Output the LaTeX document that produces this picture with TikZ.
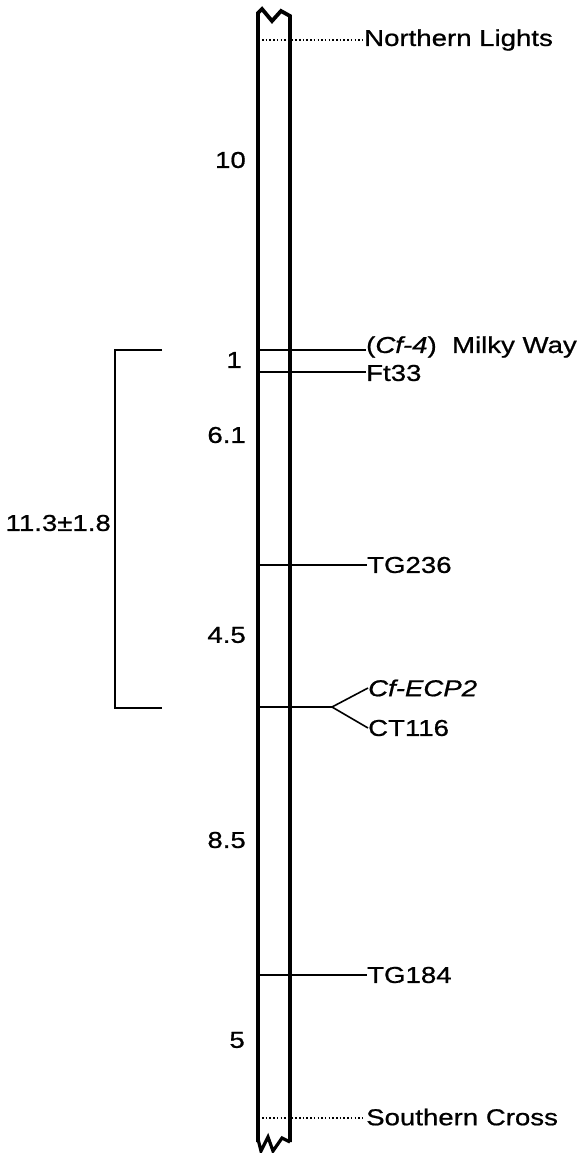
\documentclass[tikz,border=0pt]{standalone}
\usepackage{fontspec}
\setmainfont[FakeStretch=1.2,FakeBold=0.8]{Liberation Sans}
\begin{document}
\begin{tikzpicture}[x=1pt,y=-1pt,
  lbl/.style={inner sep=0pt,font=\fontsize{23}{26}\selectfont},
  num/.style={lbl,anchor=east},
  mk/.style={lbl,anchor=west},
  wall/.style={line width=3.8pt,line join=miter},
  tick/.style={line width=1.6pt},
  dots/.style={line width=1.3pt,dash pattern=on 1.5pt off 2.2pt}]
\useasboundingbox (0,0) rectangle (583,1153);
% chromosome
\draw[wall] (258,1142) -- (258,13) -- (262,9) -- (272,21) -- (281,11) -- (290,16) -- (290,1142);
\draw[line width=3.2pt,line join=miter] (258,1139) -- (261,1151) -- (268,1137) -- (273,1151) -- (282,1138) -- (290,1142);
% numbers
\node[num] (n10) at (246,160) {10};
\node[num] (n1) at (242,360) {1};
\node[num] (n61) at (246,435) {6.1};
\node[num] (n45) at (246,635) {4.5};
\node[num] (n85) at (246,840) {8.5};
\node[num] (n5) at (245,1040) {5};
% markers
\node[mk] (nl) at (364,40) {Northern Lights};
\coordinate (nlc) at (262,40);
\draw[dots] (nlc) -- (nl.west);
\node[mk] (mw) at (366,347) {(\textit{Cf-4})\ \ Milky Way};
\coordinate (mwc) at (258,350);
\draw[line width=2.2pt] (mwc) -- (mw.west|-mwc);
\node[mk] (ft) at (366,373) {Ft33};
\coordinate (ftc) at (258,372);
\draw[tick] (ftc) -- (ft.west|-ftc);
\node[mk] (tg236) at (367,565) {TG236};
\coordinate (tg236c) at (258,565);
\draw[tick] (tg236c) -- (tg236.west);
\node[mk] (ecp) at (368,688) {\textit{Cf-ECP2}};
\node[mk] (ct) at (368,728) {CT116};
\coordinate (ecpc) at (258,707);
\coordinate (fork) at (332,707);
\draw[tick] (ecpc) -- (fork) -- (ecp.west);
\draw[tick] (fork) -- (ct.west);
\node[mk] (tg184) at (367,975) {TG184};
\coordinate (tg184c) at (258,975);
\draw[tick] (tg184c) -- (tg184.west);
\node[mk] (sc) at (366,1117) {Southern Cross};
\coordinate (scc) at (262,1118);
\draw[dots] (scc) -- ([xshift=-3pt]sc.west|-scc);
% bracket
\coordinate (bt) at (162,350);
\coordinate (bb) at (162,708);
\draw[tick] (bt) -- (115,350) -- (115,708) -- (bb);
\node[lbl,anchor=east] (br) at (111,523) {11.3±1.8};
\end{tikzpicture}
\end{document}
